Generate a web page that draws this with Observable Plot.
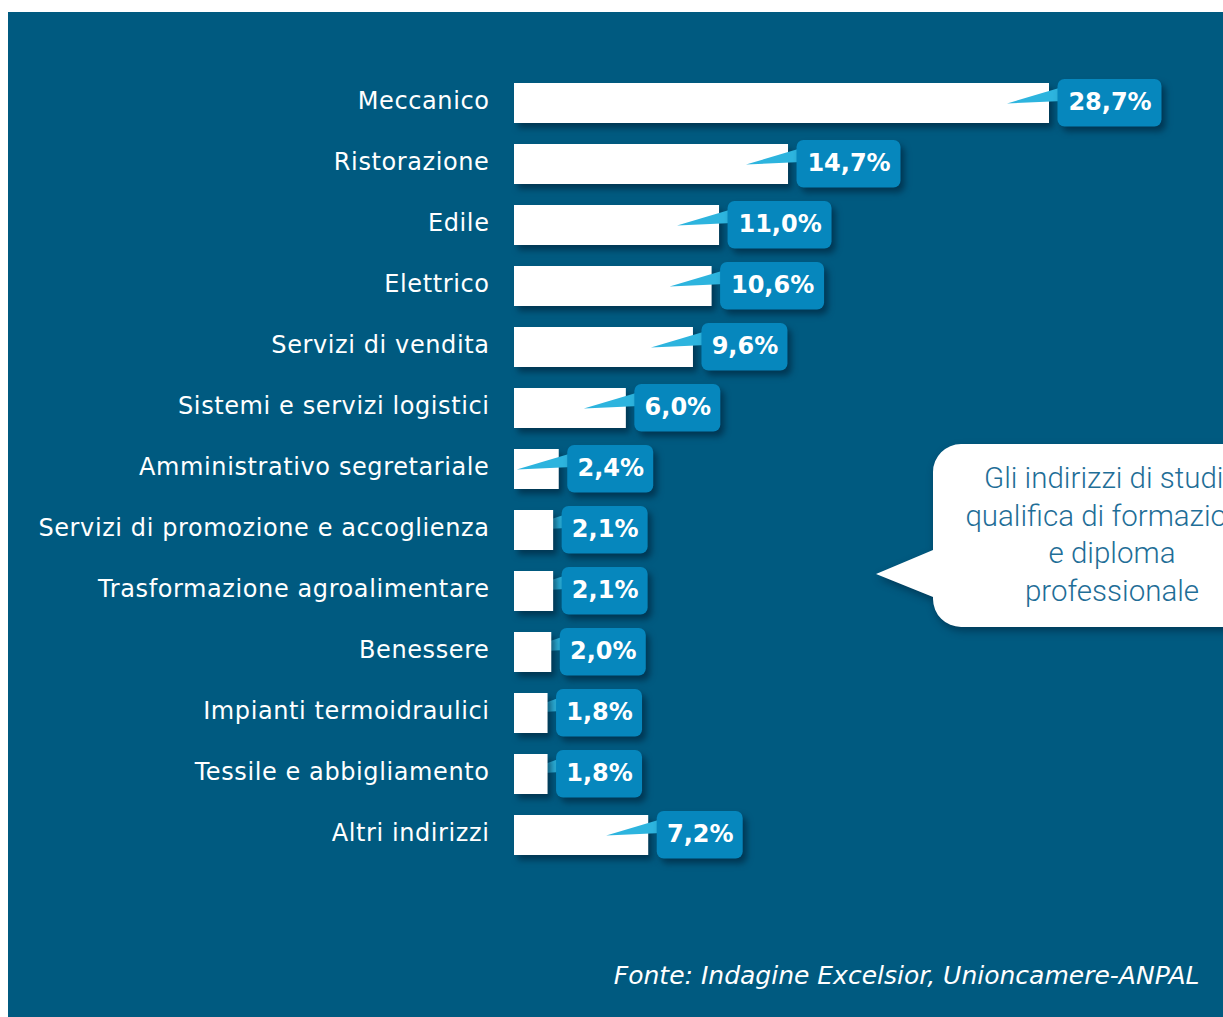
<!DOCTYPE html>
<html><head><meta charset="utf-8">
<script src="https://cdn.jsdelivr.net/npm/d3@7"></script>
<script src="https://cdn.jsdelivr.net/npm/@observablehq/plot@0.6"></script>
<style>
html,body{margin:0;padding:0;background:#ffffff;}
#wrap{padding:12px 0 0 8px;width:1215px;height:1005px;overflow:hidden;}
#wrap svg{display:block;background:#005a80;}
#wrap g[aria-label="bar"]{filter:drop-shadow(4px 5px 3px rgba(0,25,45,0.55));}
#wrap g[aria-label="y-axis tick label"] text{letter-spacing:0.6px;}
</style></head><body><div id="wrap"></div>
<script>
const categories = [
  "Meccanico", "Ristorazione", "Edile", "Elettrico", "Servizi di vendita",
  "Sistemi e servizi logistici", "Amministrativo segretariale",
  "Servizi di promozione e accoglienza", "Trasformazione agroalimentare",
  "Benessere", "Impianti termoidraulici", "Tessile e abbigliamento", "Altri indirizzi"
];
const values = [28.7, 14.7, 11.0, 10.6, 9.6, 6.0, 2.4, 2.1, 2.1, 2.0, 1.8, 1.8, 7.2];
const valueLabels = ["28,7%", "14,7%", "11,0%", "10,6%", "9,6%", "6,0%", "2,4%", "2,1%", "2,1%", "2,0%", "1,8%", "1,8%", "7,2%"];
const caption = "Fonte: Indagine Excelsior, Unioncamere-ANPAL";
const bubbleLines = ["Gli indirizzi di studio", "qualifica di formazione", "e diploma", "professionale"];

const W = 1215, H = 1005;
const mL = 506, mR = 174, mT = 68, mB = 159;
const xMax = 28.7;
const k = (W - mL - mR) / xMax; // px per unit
const gap = 8.5;
const boxW = s => 18 * s.length + 14;

const rows = categories.map((c, i) => ({cat: c, v: values[i], label: valueLabels[i]}));

const FONT = "'DejaVu Sans', sans-serif";

function pointers(under) {
  return (index, scales) => {
    const x = scales.x, y = scales.y;
    const bw = typeof y.bandwidth === "function" ? y.bandwidth() : 40.5;
    const g = d3.create("svg:g");
    rows.forEach(d => {
      const end = x(d.v), start = x(0);
      let tipX = end - 42;
      if ((tipX < start) !== under) return;
      if (under) tipX = start + 3;
      const top = y(d.cat), mid = top + bw / 2;
      const bl = end + gap + 5;
      g.append("path")
        .attr("d", `M${tipX},${mid + 0.5}L${bl},${top + 4}L${bl},${mid - 2}Z`)
        .attr("fill", "#2db4de");
    });
    return g.node();
  };
}

function bubble(index, scales, values, dims) {
  const g = d3.create("svg:g");
  const bx = 925, by = 432, bh = 183, r = 28, far = W + 60;
  g.append("path")
    .attr("d", `M${bx + r},${by}H${far}V${by + bh}H${bx + r}A${r},${r} 0 0 1 ${bx},${by + bh - r}V${by + 153}L868,${by + 130}L${bx},${by + 106}V${by + r}A${r},${r} 0 0 1 ${bx + r},${by}Z`)
    .attr("fill", "#ffffff")
    .style("filter", "drop-shadow(2px 4px 4px rgba(0,20,40,0.45))");
  const t = g.append("text")
    .attr("text-anchor", "middle")
    .attr("fill", "#1f6e97")
    .attr("font-family", "Roboto, sans-serif")
    .attr("font-weight", 300)
    .attr("font-size", 29.5);
  bubbleLines.forEach((l, i) => {
    t.append("tspan").attr("x", 1104).attr("y", 476 + i * 37.7).text(l);
  });
  return g.node();
}

const plot = Plot.plot({
  width: W, height: H,
  marginLeft: mL, marginRight: mR, marginTop: mT, marginBottom: mB,
  style: {fontFamily: FONT, background: "#005a80", color: "#ffffff", overflow: "hidden"},
  x: {domain: [0, xMax], axis: null},
  y: {domain: categories, paddingInner: 0.34, paddingOuter: 0, axis: null},
  marks: [
    pointers(true),
    Plot.barX(rows, {x1: 0, x2: "v", y: "cat", fill: "#ffffff"}),
    pointers(false),
    Plot.barX(rows, {
      x1: d => d.v + gap / k,
      x2: d => d.v + (gap + boxW(d.label)) / k,
      y: "cat", fill: "#0687bd", rx: 7, insetTop: -4, insetBottom: -3.5
    }),
    Plot.text(rows, {
      x: d => d.v + (gap + boxW(d.label) / 2) / k,
      y: "cat", text: "label", fill: "#ffffff",
      fontSize: 24, fontWeight: "bold", dy: -1
    }),
    Plot.axisY({tickSize: 0, tickPadding: 25, fontSize: 24, color: "#ffffff", label: null, dy: -2}),
    bubble,
    Plot.text([caption], {
      frameAnchor: "bottom-right", text: d => d, dx: 150, dy: 117,
      lineAnchor: "middle", textAnchor: "end",
      fill: "#ffffff", fontSize: 25, fontStyle: "italic"
    })
  ]
});
document.getElementById("wrap").appendChild(plot);
</script>
</body></html>
